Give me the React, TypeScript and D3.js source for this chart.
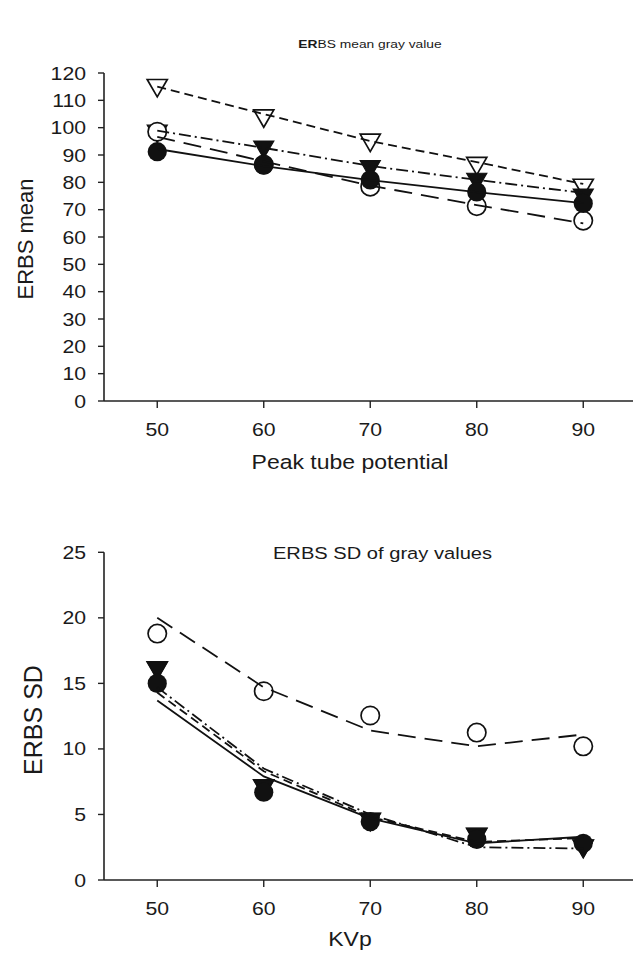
import React from "react";
import * as d3 from "d3";

// ---------- data ----------
const kvp = [50, 60, 70, 80, 90];

// top panel: ERBS mean gray value (markers)
const meanOpenTri = [115.5, 104.4, 95.5, 87, 79];
const meanFilledTri = [98.8, 93, 85.8, 81.2, 75.4];
const meanOpenCirc = [98.5, 86.5, 78.4, 71.3, 66];
const meanFilledCirc = [91.2, 86.3, 80.9, 76.5, 72.3];
// top panel: fitted lines
const meanFitShortDash = [115, 105, 95.1, 87.4, 79.4];
const meanFitDashDot = [98.9, 92.6, 86, 80.9, 76.1];
const meanFitLongDash = [96.6, 87.7, 78.8, 71.7, 65];
const meanFitSolid = [92.2, 85.9, 80.8, 76.4, 72.4];

// bottom panel: ERBS SD (markers)
const sdOpenTri = [16.2, 7.2, 4.65, 3.5, 2.6];
const sdFilledTri = [16.2, 7.2, 4.65, 3.5, 2.6];
const sdOpenCirc = [18.8, 14.4, 12.55, 11.25, 10.2];
const sdFilledCirc = [15.0, 6.7, 4.45, 3.1, 2.8];
// bottom panel: fitted lines
const sdFitShortDash = [14.3, 8.3, 4.8, 2.9, 3.2];
const sdFitDashDot = [14.7, 8.5, 5.0, 2.5, 2.4];
const sdFitLongDash = [20.0, 14.7, 11.4, 10.2, 11.1];
const sdFitSolid = [13.7, 7.9, 4.7, 2.8, 3.3];

const xTicks = [50, 60, 70, 80, 90];
const meanTicks = [0, 10, 20, 30, 40, 50, 60, 70, 80, 90, 100, 110, 120];
const sdTicks = [0, 5, 10, 15, 20, 25];

// ---------- layout ----------
const W = 633;
const H = 967;
const FONT = "'Liberation Sans', Arial, Helvetica, sans-serif";
const SX = 1.18;

const x = d3.scaleLinear().domain([45, 95]).range([104, 636.5]);
const yTop = d3.scaleLinear().domain([0, 120]).range([401, 73]);
const yBot = d3.scaleLinear().domain([0, 25]).range([880, 552.3]);

const triPath = d3.symbol(d3.symbolTriangle, 175)() as string;

const DASH = {
  short: "9,5",
  long: "18,9",
  dashdot: "12,4,2,4",
};

function T({ x, y, size, anchor = "middle", sx = SX, children, weight, rotate }: any) {
  const tr = rotate
    ? `translate(${x},${y}) rotate(${rotate})`
    : `translate(${x},${y}) scale(${sx},1)`;
  return (
    <text
      transform={tr}
      fontFamily={FONT}
      fontSize={size}
      textAnchor={anchor}
      fontWeight={weight}
      fill="#1a1a1a"
    >
      {children}
    </text>
  );
}

function Panel({
  y,
  ticks,
  markers,
  fits,
  axisY,
  topY,
  yLabel,
  yLabelSize,
  yLabelX,
  yLabelCY,
  xLabel,
  xLabelY,
}: any) {
  const line = (vals: number[]) =>
    d3
      .line<number>()
      .x((_, i) => x(kvp[i]))
      .y((v) => y(v))(vals) as string;
  return (
    <g>
      {/* markers */}
      {markers.openTri.map((v: number, i: number) => (
        <path key={"ot" + i} d={triPath} transform={`translate(${x(kvp[i])},${y(v)}) rotate(180)`} fill="#fff" stroke="#111" strokeWidth={1.7} />
      ))}
      {markers.filledTri.map((v: number, i: number) => (
        <path key={"ft" + i} d={triPath} transform={`translate(${x(kvp[i])},${y(v)}) rotate(180)`} fill="#111" stroke="#111" strokeWidth={1.2} />
      ))}
      {markers.openCirc.map((v: number, i: number) => (
        <circle key={"oc" + i} cx={x(kvp[i])} cy={y(v)} r={9.2} fill="#fff" stroke="#111" strokeWidth={1.7} />
      ))}
      {markers.filledCirc.map((v: number, i: number) => (
        <circle key={"fc" + i} cx={x(kvp[i])} cy={y(v)} r={9.6} fill="#111" />
      ))}
      {/* fitted lines */}
      <path d={line(fits.shortDash)} fill="none" stroke="#111" strokeWidth={1.8} strokeDasharray={DASH.short} />
      <path d={line(fits.dashDot)} fill="none" stroke="#111" strokeWidth={1.8} strokeDasharray={DASH.dashdot} />
      <path d={line(fits.longDash)} fill="none" stroke="#111" strokeWidth={1.8} strokeDasharray={DASH.long} />
      <path d={line(fits.solid)} fill="none" stroke="#111" strokeWidth={1.8} />

      {/* axes */}
      <line x1={104} x2={W} y1={axisY} y2={axisY} stroke="#222" strokeWidth={1.6} />
      <line x1={104} x2={104} y1={topY} y2={axisY} stroke="#222" strokeWidth={1.6} />
      {ticks.map((t: number) => (
        <g key={"yt" + t}>
          <line x1={98} x2={104} y1={y(t)} y2={y(t)} stroke="#222" strokeWidth={1.4} />
          <T x={86} y={y(t) + 6.5} size={18} anchor="end">
            {t}
          </T>
        </g>
      ))}
      {xTicks.map((t: number) => (
        <g key={"xt" + t}>
          <line x1={x(t)} x2={x(t)} y1={axisY} y2={axisY + 7} stroke="#222" strokeWidth={1.4} />
          <T x={x(t)} y={axisY + 35} size={18}>
            {t}
          </T>
        </g>
      ))}
      <T x={yLabelX} y={yLabelCY} size={yLabelSize} rotate={-90}>
        {yLabel}
      </T>
      <T x={350} y={xLabelY} size={19.5}>
        {xLabel}
      </T>
    </g>
  );
}

export default function App() {
  return (
    <svg
      width={W}
      height={H}
      viewBox={`0 0 ${W} ${H}`}
      style={{ position: "absolute", left: 0, top: 0, background: "#fff" }}
    >
      <rect width={W} height={H} fill="#fff" />
      <text transform={`translate(370,48) scale(1.2,1)`} fontFamily={FONT} fontSize={11.5} textAnchor="middle" fill="#1a1a1a">
        <tspan fontWeight="bold">ER</tspan>
        <tspan>BS mean gray value</tspan>
      </text>
      <Panel
        y={yTop}
        ticks={meanTicks}
        axisY={401}
        topY={73}
        markers={{ openTri: meanOpenTri, filledTri: meanFilledTri, openCirc: meanOpenCirc, filledCirc: meanFilledCirc }}
        fits={{ shortDash: meanFitShortDash, dashDot: meanFitDashDot, longDash: meanFitLongDash, solid: meanFitSolid }}
        yLabel="ERBS mean"
        yLabelSize={22}
        yLabelX={33}
        yLabelCY={239}
        xLabel="Peak tube potential"
        xLabelY={469}
      />
      <T x={382.5} y={559} size={16.5} sx={1.22}>
        ERBS SD of gray values
      </T>
      <Panel
        y={yBot}
        ticks={sdTicks}
        axisY={880}
        topY={552.3}
        markers={{ openTri: sdOpenTri, filledTri: sdFilledTri, openCirc: sdOpenCirc, filledCirc: sdFilledCirc }}
        fits={{ shortDash: sdFitShortDash, dashDot: sdFitDashDot, longDash: sdFitLongDash, solid: sdFitSolid }}
        yLabel="ERBS SD"
        yLabelSize={25}
        yLabelX={42}
        yLabelCY={720}
        xLabel="KVp"
        xLabelY={946}
      />
    </svg>
  );
}
